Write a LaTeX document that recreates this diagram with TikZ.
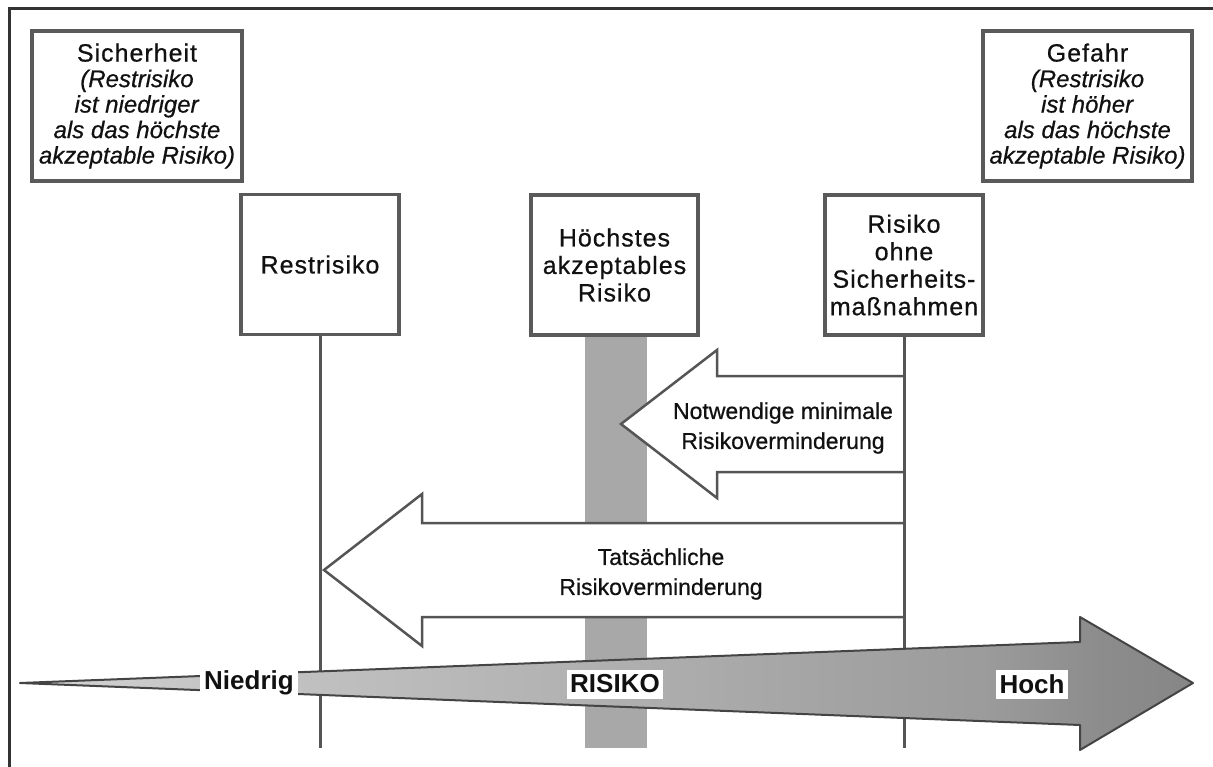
\documentclass[tikz,border=0pt]{standalone}
\usepackage{fontspec}
\setmainfont{Liberation Sans}
\newfontfamily\heavy[FakeBold=0.6]{Liberation Sans}
\newfontfamily\spaced[LetterSpace=4,FakeBold=0.6]{Liberation Sans}
\definecolor{framecol}{HTML}{333333}
\definecolor{boxcol}{HTML}{5A5A5A}
\definecolor{linecol}{HTML}{555555}
\definecolor{barcol}{HTML}{A8A8A8}
\definecolor{arrowline}{HTML}{444444}
\definecolor{txtcol}{HTML}{111111}
\definecolor{sa}{gray}{0.93}
\definecolor{sb}{gray}{0.835}
\definecolor{sc}{gray}{0.78}
\definecolor{sd}{gray}{0.61}
\definecolor{se}{gray}{0.55}
\definecolor{sf}{gray}{0.45}
\definecolor{sg}{gray}{0.36}
\pgfdeclarehorizontalshading{riskshade}{100bp}{color(0bp)=(sa); color(24bp)=(sb); color(32bp)=(sc); color(66bp)=(sd); color(71bp)=(se); color(88bp)=(sf); color(100bp)=(sg)}
\begin{document}
\begin{tikzpicture}[x=1pt,y=-1pt,
  every node/.style={text=txtcol},
  topbox/.style={draw=boxcol, line width=3.5, fill=white, minimum width=210, minimum height=150, align=center, inner sep=0, font=\heavy\fontsize{24}{25.5}\selectfont},
  midbox/.style={draw=boxcol, line width=3.5, fill=white, minimum width=158, minimum height=140, align=center, inner sep=0, font=\spaced\fontsize{25}{27.5}\selectfont},
  vline/.style={draw=linecol, line width=3},
  redarrow/.style={draw=linecol, line width=2.5, fill=white, line join=miter},
  redlabel/.style={align=center, inner sep=0, font=\heavy\fontsize{23}{30}\selectfont},
  risklabel/.style={fill=white, inner xsep=3.5, inner ysep=0, minimum height=29, font=\bfseries\fontsize{26}{26}\selectfont}]
\useasboundingbox (0,0) rectangle (1213,767);
% frame
\draw[framecol, line width=3] (9.5,767) -- (9.5,8.5) -- (1213,8.5);
% grey bar
\node[fill=barcol, minimum width=62, minimum height=413, inner sep=0] (bar) at (616,541.5) {};
% reduction arrows
\draw[redarrow] (905,376) -- (717,376) -- (717,350) -- (621,424) -- (717,498) -- (717,472) -- (905,472);
\draw[redarrow] (905,523) -- (422,523) -- (422,494) -- (324,570) -- (422,646) -- (422,617) -- (905,617);
\node[redlabel] (need) at (783,428) {Notwendige minimale\\Risikoverminderung};
\node[redlabel] (real) at (661,574) {Tatsächliche\\Risikoverminderung};
% boxes
\node[topbox] (safe) at (137,106) {{\spaced\fontsize{25}{25.5}\selectfont Sicherheit}\\\textit{(Restrisiko}\\\textit{ist niedriger}\\\textit{als das höchste}\\\textit{akzeptable Risiko)}};
\node[topbox, minimum width=209] (danger) at (1087.5,106) {{\spaced\fontsize{25}{25.5}\selectfont Gefahr}\\\textit{(Restrisiko}\\\textit{ist höher}\\\textit{als das höchste}\\\textit{akzeptable Risiko)}};
\node[midbox] (rest) at (320,264.5) {Restrisiko};
\node[midbox, minimum width=167] (max) at (614.5,265) {Höchstes\\akzeptables\\Risiko};
\node[midbox] (raw) at (904,265) {Risiko\\ohne\\Sicherheits-\\maßnahmen};
% vertical lines
\coordinate (restEnd) at (320,748);
\coordinate (rawEnd) at (904,748);
\draw[vline] (rest.south) -- (restEnd);
\draw[vline] (raw.south) -- (rawEnd);
% big risk arrow
\shadedraw[shading=riskshade, draw=arrowline, line width=2, line join=round]
  (20,683) -- (1080,642) -- (1080,617) -- (1193,683) -- (1080,750) -- (1080,725) -- cycle;
\node[risklabel, inner xsep=4] (low) at (249,683) {Niedrig};
\node[risklabel] (risk) at (615,684) {RISIKO};
\node[risklabel] (high) at (1032,684) {Hoch};
\end{tikzpicture}
\end{document}
